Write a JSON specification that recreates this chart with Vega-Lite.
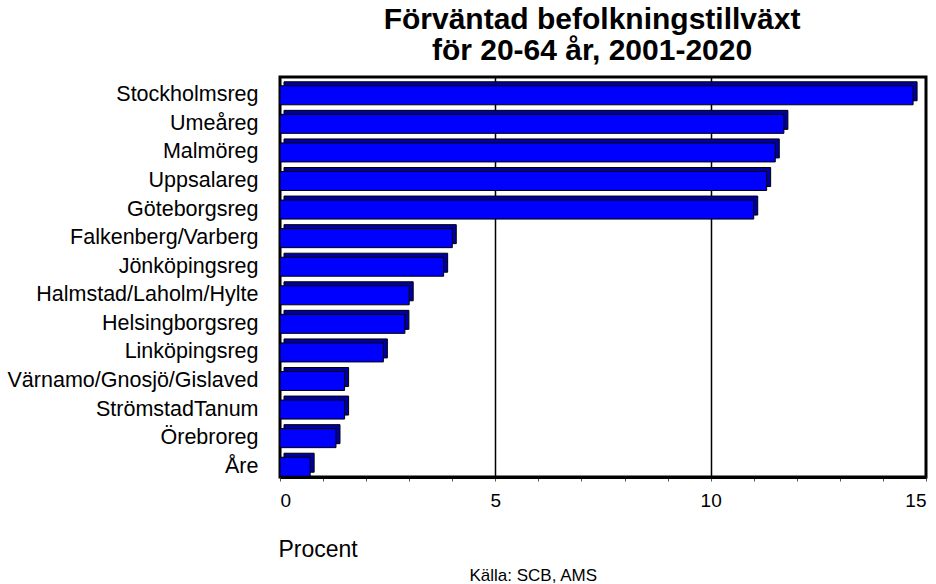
{
  "$schema": "https://vega.github.io/schema/vega-lite/v6.json",
  "autosize": "none",
  "width": 646,
  "height": 400,
  "padding": {"left": 280, "top": 77, "right": 10, "bottom": 107},
  "background": "white",
  "config": {
    "font": "Liberation Sans",
    "view": {"stroke": "black", "strokeWidth": 3}
  },
  "title": {
    "text": ["Förväntad befolkningstillväxt", "för 20-64 år, 2001-2020"],
    "fontSize": 30,
    "fontWeight": "bold",
    "font": "Liberation Sans",
    "color": "black",
    "anchor": "middle",
    "lineHeight": 31,
    "dx": -11,
    "offset": 11
  },
  "data": {
    "values": [
      {"region": "Stockholmsreg", "procent": 14.7},
      {"region": "Umeåreg", "procent": 11.7},
      {"region": "Malmöreg", "procent": 11.5},
      {"region": "Uppsalareg", "procent": 11.3},
      {"region": "Göteborgsreg", "procent": 11.0},
      {"region": "Falkenberg/Varberg", "procent": 4.0},
      {"region": "Jönköpingsreg", "procent": 3.8},
      {"region": "Halmstad/Laholm/Hylte", "procent": 3.0},
      {"region": "Helsingborgsreg", "procent": 2.9},
      {"region": "Linköpingsreg", "procent": 2.4},
      {"region": "Värnamo/Gnosjö/Gislaved", "procent": 1.5},
      {"region": "StrömstadTanum", "procent": 1.5},
      {"region": "Örebroreg", "procent": 1.3},
      {"region": "Åre", "procent": 0.7}
    ]
  },
  "layer": [
    {
      "mark": {"type": "bar", "color": "#0000A0", "stroke": "black", "strokeWidth": 1, "size": 19, "xOffset": 4, "yOffset": 0},
      "encoding": {
        "y": {
          "field": "region", "type": "nominal", "sort": null, "title": null,
          "axis": {"labelFontSize": 21.5, "labelColor": "black", "labelPadding": 22, "labelLimit": 400, "ticks": false, "domain": false, "labelOffset": 4}
        },
        "x": {
          "field": "procent", "type": "quantitative",
          "scale": {"domain": [0, 15], "nice": false},
          "title": "Procent",
          "axis": {
            "values": [0,1,2,3,4,5,6,7,8,9,10,11,12,13,14,15],
            "labelExpr": "datum.value % 5 === 0 ? datum.label : ''",
            "labelFontSize": 19,
            "labelColor": "black",
            "labelPadding": 10,
            "tickSize": 4,
            "tickColor": "#555555",
            "domainColor": "black",
            "domainWidth": 3,
            "grid": true,
            "gridColor": {"condition": {"test": "datum.value % 5 === 0 && datum.value > 0 && datum.value < 15", "value": "black"}, "value": "transparent"},
            "gridWidth": 1.5,
            "titleFontSize": 23,
            "titleFontWeight": "normal",
            "titleColor": "black",
            "titleAnchor": "start",
            "titleAlign": "left",
            "titleX": -2,
            "titleY": 79,
            "titleBaseline": "alphabetic"
          }
        }
      }
    },
    {
      "mark": {"type": "bar", "color": "#0000FF", "stroke": "black", "strokeWidth": 1, "size": 19, "yOffset": 4},
      "encoding": {
        "y": {"field": "region", "type": "nominal", "sort": null},
        "x": {"field": "procent", "type": "quantitative"}
      }
    },
    {
      "data": {"values": [{"note": "Källa: SCB, AMS", "pos": 4.4}]},
      "mark": {"type": "text", "fontSize": 17, "align": "left", "baseline": "alphabetic", "color": "black", "y": 504},
      "encoding": {
        "x": {"field": "pos", "type": "quantitative"},
        "text": {"field": "note"}
      }
    }
  ]
}
